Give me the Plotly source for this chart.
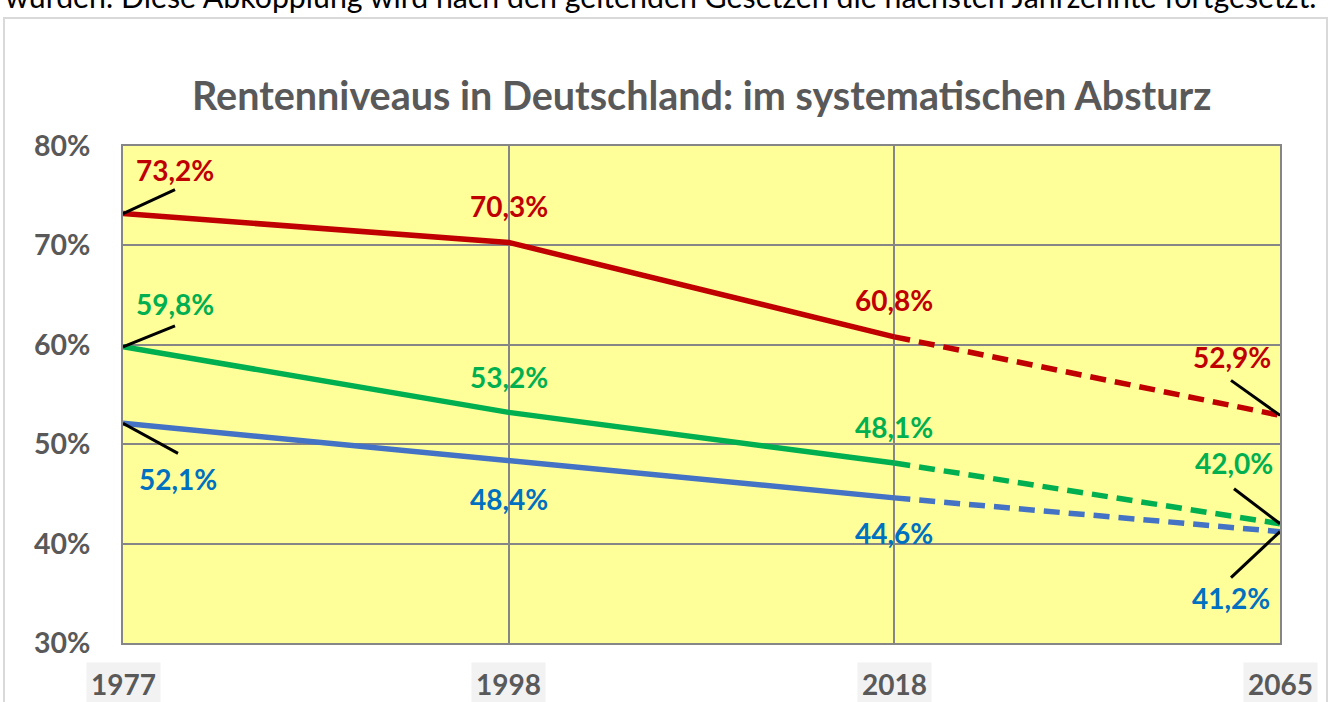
import plotly.graph_objects as go

# ---- data ----
years = ["1977", "1998", "2018", "2065"]
red_vals = [73.2, 70.3, 60.8, 52.9]
green_vals = [59.8, 53.2, 48.1, 42.0]
blue_vals = [52.1, 48.4, 44.6, 41.2]
y_ticks = [30, 40, 50, 60, 70, 80]
y_tick_labels = ["30%", "40%", "50%", "60%", "70%", "80%"]
title_text = "Rentenniveaus in Deutschland: im systematischen Absturz"
header_text = "wurden. Diese Abkopplung wird nach den geltenden Gesetzen die nächsten Jahrzehnte fortgesetzt."

# ---- layout geometry (pixels) ----
W, H = 1332, 702
ML, MR, MT, MB = 123, 52, 146, 59
PW, PH = W - ML - MR, H - MT - MB


def px(x):
    return (x - ML) / PW


def py(y):
    return (H - MB - y) / PH


FONT = "Lato"
GRAY_TXT = "#595959"

series = [
    dict(vals=red_vals, line="#C00000", label="#C00000",
         offs=[(52, 44), (0, 36), (0, 37), (-48, 58)],
         leaders={0: (52, 24), 3: (-49, 35)}),
    dict(vals=green_vals, line="#00B050", label="#00B050",
         offs=[(52, 43), (0, 35), (0, 36), (-46, 61)],
         leaders={0: (52, 21), 3: (-46, 35)}),
    dict(vals=blue_vals, line="#4472C4", label="#0070C0",
         offs=[(55, -56), (0, -39), (0, -35), (-49, -66)],
         leaders={0: (55, -30), 3: (-49, -46)}),
]

fig = go.Figure()
annotations = []
shapes = []

for s in series:
    v = s["vals"]
    fig.add_trace(go.Scatter(x=years[:3], y=v[:3], mode="lines",
                             line=dict(color=s["line"], width=5.5),
                             hoverinfo="skip", showlegend=False))
    fig.add_trace(go.Scatter(x=years[2:], y=v[2:], mode="lines",
                             line=dict(color=s["line"], width=5.5, dash="16px,9px"),
                             hoverinfo="skip", showlegend=False))
    for i, (yr, val) in enumerate(zip(years, v)):
        dx, dy = s["offs"][i]
        annotations.append(dict(
            x=i, y=val, xref="x", yref="y", showarrow=False,
            text="<b>" + f"{val:.1f}".replace(".", ",") + "%</b>",
            xshift=dx, yshift=dy,
            font=dict(family=FONT, size=28, color=s["label"])))
    for i, (lx, ly) in s["leaders"].items():
        shapes.append(dict(
            type="line", xref="x", yref="y",
            xsizemode="pixel", ysizemode="pixel",
            xanchor=i, yanchor=v[i],
            x0=0, y0=0, x1=lx, y1=ly,
            line=dict(color="black", width=3)))

# x category labels with gray background
for i, yr in enumerate(years):
    annotations.append(dict(
        x=i, y=0, xref="x", yref="paper", yanchor="top",
        yshift=-19, showarrow=False, text="<b>" + yr + "</b>",
        bgcolor="#F2F2F2", borderpad=4,
        font=dict(family=FONT, size=28, color=GRAY_TXT)))

# title
annotations.append(dict(
    x=0.5, y=py(94), xref="paper", yref="paper", showarrow=False,
    text="<b>" + title_text + "</b>", xanchor="center", yanchor="middle",
    font=dict(family=FONT, size=39.5, color=GRAY_TXT)))

# header text cut off at top
annotations.append(dict(
    x=px(3), y=py(16), xref="paper", yref="paper", showarrow=False,
    text=header_text, xanchor="left", yanchor="bottom",
    font=dict(family=FONT, size=30.3, color="black")))

# outer chart frame
shapes.append(dict(
    type="rect", xref="paper", yref="paper",
    x0=px(4), x1=px(1327), y0=py(712), y1=py(18),
    line=dict(color="#D9D9D9", width=2), layer="below"))

fig.update_layout(
    width=W, height=H,
    margin=dict(l=ML, r=MR, t=MT, b=MB),
    paper_bgcolor="white",
    plot_bgcolor="#FFFF99",
    annotations=annotations,
    shapes=shapes,
    showlegend=False,
)
fig.update_xaxes(type="category", categoryorder="array", categoryarray=years,
                 range=[0, 3], showgrid=True, gridcolor="#868686", gridwidth=2,
                 showticklabels=False, showline=True, linecolor="#868686",
                 linewidth=2, mirror=True, zeroline=False)
fig.update_yaxes(range=[30, 80], tickmode="array", tickvals=y_ticks,
                 ticktext=["<b>" + t + "</b>" for t in y_tick_labels],
                 showgrid=True, gridcolor="#868686", gridwidth=2,
                 showline=True, linecolor="#868686", linewidth=2, mirror=True,
                 ticks="outside", ticklen=25, tickcolor="rgba(0,0,0,0)",
                 tickfont=dict(family=FONT, size=28.5, color=GRAY_TXT),
                 zeroline=False)

fig.write_html("out.html", config={"displayModeBar": False},
               post_script="document.body.style.margin='0';")
